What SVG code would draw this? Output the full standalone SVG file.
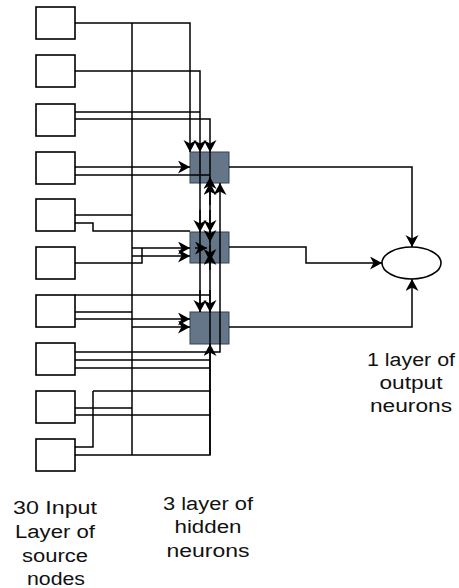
<svg xmlns="http://www.w3.org/2000/svg" width="459" height="588" viewBox="0 0 459 588">
<style>
.in{fill:#fff;stroke:#000;stroke-width:1.6}
.hid{fill:#647687;stroke:#314354;stroke-width:1}
.out{fill:#fff;stroke:#000;stroke-width:1.6}
.e{fill:none;stroke:#000;stroke-width:1.5}
.a{fill:none;stroke:#000;stroke-width:1.5;marker-end:url(#arr)}
.t{font-family:"Liberation Sans",Arial,sans-serif;font-size:18px;fill:#111;text-anchor:middle}
</style>
<defs>
<marker id="arr" markerUnits="userSpaceOnUse" markerWidth="15" markerHeight="15" refX="12" refY="6.5" orient="auto">
<path d="M0,0 L12,6.5 L0,13 L3.5,6.5 Z" fill="#000"/>
</marker>
</defs>
<rect width="459" height="588" fill="#fff"/>
<g id="input-nodes">
<g id="in1"><rect class="in" x="36" y="7" width="39" height="32"/></g>
<g id="in2"><rect class="in" x="36" y="55" width="39" height="32"/></g>
<g id="in3"><rect class="in" x="36" y="104" width="39" height="32"/></g>
<g id="in4"><rect class="in" x="36" y="152" width="39" height="32"/></g>
<g id="in5"><rect class="in" x="36" y="199" width="39" height="32"/></g>
<g id="in6"><rect class="in" x="36" y="247" width="39" height="32"/></g>
<g id="in7"><rect class="in" x="36" y="295" width="39" height="32"/></g>
<g id="in8"><rect class="in" x="36" y="343" width="39" height="32"/></g>
<g id="in9"><rect class="in" x="36" y="391" width="39" height="32"/></g>
<g id="in10"><rect class="in" x="36" y="439" width="39" height="32"/></g>
</g>
<g id="hidden-nodes">
<g id="h1"><rect class="hid" x="190" y="152" width="39" height="31"/></g>
<g id="h2"><rect class="hid" x="190" y="232" width="39" height="31"/></g>
<g id="h3"><rect class="hid" x="190" y="312" width="39" height="32"/></g>
</g>
<g id="output-node">
<ellipse class="out" cx="411.5" cy="263" rx="29.5" ry="16"/>
</g>
<g id="connectors">
<path class="e" d="M132,23 V455"/>
<path class="a" d="M75,23 H190 V152"/>
<path class="a" d="M75,71 H200 V152"/>
<path class="e" d="M75,112 H200"/>
<path class="a" d="M75,119 H210 V152"/>
<path class="a" d="M75,167 H190"/>
<path class="e" d="M75,175 H210"/>
<path class="e" d="M75,215 H132"/>
<path class="e" d="M75,223 H93 V231 H190"/>
<path class="e" d="M75,263 H142 V248"/>
<path class="a" d="M132,248 H190"/>
<path class="a" d="M132,256 H190"/>
<path class="e" d="M75,295 H210"/>
<path class="e" d="M75,312 H132"/>
<path class="a" d="M75,319 H190"/>
<path class="a" d="M132,327 H190"/>
<path class="a" d="M75,352 H220 V183"/>
<path class="e" d="M75,360 H210"/>
<path class="e" d="M75,368 H210"/>
<path class="e" d="M93,391 H210"/>
<path class="e" d="M75,408 H132"/>
<path class="e" d="M75,415 H210"/>
<path class="e" d="M75,447 H93 V391"/>
<path class="a" d="M75,455 H210 V344"/>
<path class="e" d="M200,152 V312"/>
<path class="e" d="M210,152 V455"/>
<path class="a" d="M200,210 V232"/>
<path class="a" d="M210,210 V232"/>
<path class="a" d="M200,290 V312"/>
<path class="a" d="M210,290 V312"/>
<path class="a" d="M210,205 V183"/>
<path class="a" d="M210,192 V177"/>
<path class="a" d="M210,228 V242"/>
<path class="a" d="M210,245 V261"/>
<path class="a" d="M210,270 V253"/>
<path class="a" d="M195,248 H207"/>
<path class="a" d="M229,167 H412 V247"/>
<path class="a" d="M229,247 H306 V263 H382"/>
<path class="a" d="M229,327 H412 V279"/>
</g>
<g id="labels">
<text class="t" x="411" y="366" textLength="88" lengthAdjust="spacingAndGlyphs">1 layer of</text>
<text class="t" x="411" y="389" textLength="63" lengthAdjust="spacingAndGlyphs">output</text>
<text class="t" x="411" y="412" textLength="82" lengthAdjust="spacingAndGlyphs">neurons</text>
<text class="t" x="55" y="514" textLength="84" lengthAdjust="spacingAndGlyphs">30 Input</text>
<text class="t" x="55" y="538" textLength="80" lengthAdjust="spacingAndGlyphs">Layer of</text>
<text class="t" x="55" y="562" textLength="66" lengthAdjust="spacingAndGlyphs">source</text>
<text class="t" x="56" y="585" textLength="58" lengthAdjust="spacingAndGlyphs">nodes</text>
<text class="t" x="208" y="510" textLength="90" lengthAdjust="spacingAndGlyphs">3 layer of</text>
<text class="t" x="208" y="533" textLength="67" lengthAdjust="spacingAndGlyphs">hidden</text>
<text class="t" x="208" y="557" textLength="83" lengthAdjust="spacingAndGlyphs">neurons</text>
</g>
</svg>
